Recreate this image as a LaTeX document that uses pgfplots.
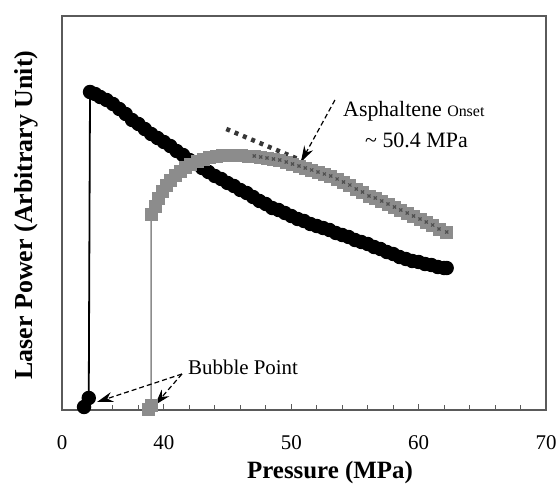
\documentclass[border=0pt]{standalone}
\usepackage{pgfplots}
\pgfplotsset{compat=1.18}
\usepackage{pgfplotstable}
\usepackage{fontspec}
\setmainfont{Liberation Serif}
\usetikzlibrary{arrows.meta}
\definecolor{mgray}{RGB}{140,140,140}
\definecolor{mgrayd}{RGB}{80,80,80}
\definecolor{frame}{RGB}{90,90,90}
\definecolor{dotc}{RGB}{55,55,55}

\pgfplotstableread{
x y
33.73 3
34.1 12
34.2 318
34.6 316
35.0 313
35.5 310
36.0 306
36.5 301
37.0 296
37.5 290
38.0 286
38.5 281
39.0 276
39.5 272
40.0 268
40.5 264
41.0 259
41.5 255
42.0 250
42.5 246
43.0 242
43.5 238
44.0 234
44.5 231
45.0 227
45.5 224
46.0 220
46.5 217
47.0 213
47.5 209
48.0 206
48.5 202
49.0 200
49.5 197
50.0 194
50.5 191
51.0 189
51.5 186
52.0 184
52.5 182
53.0 180
53.5 177
54.0 175
54.5 173
55.0 170
55.5 168
56.0 166
56.5 163
57.0 161
57.5 158
58.0 156
58.5 153
59.0 151
59.5 149
60.0 148
60.5 146
61.0 145
61.5 143
62.0 142
62.2 142
}\blackdata

\pgfplotstableread{
x y
38.75 1
39.0 5
39.0 196
39.3 204
39.6 212
39.9 219
40.2 225
40.5 230
40.9 235
41.3 239
41.7 243
42.1 246
42.6 249
43.1 251
43.6 253
44.1 254
44.6 255
45.1 255
45.6 255
46.1 255
46.6 254
47.1 254
47.6 253
48.1 252
48.6 251
49.1 250
49.6 248
50.1 246
50.6 244
51.1 242
51.6 240
52.1 238
52.6 236
53.1 234
53.6 231
54.1 228
54.6 225
55.1 221
55.6 218
56.1 214
56.6 212
57.1 209
57.6 206
58.1 203
58.6 200
59.1 197
59.6 194
60.1 191
60.6 188
61.1 185
61.6 181
62.2 178
}\graydata

\begin{document}
\begin{tikzpicture}
\path[use as bounding box] (-62bp,-80bp) rectangle (497bp,410bp);
\begin{axis}[
  at={(0,0)}, anchor=south west,
  scale only axis, width=484bp, height=394bp,
  xmin=32, xmax=70, ymin=0, ymax=394,
  clip=false,
  axis line style={frame, line width=1.2bp},
  xtick={32,40,50,60,70}, xticklabels={0,40,50,60,70},
  minor xtick={34,36,38,42,44,46,48,52,54,56,58,62,64,66,68},
  ytick=\empty,
  xtick pos=bottom, tick align=inside,
  major tick length=6bp, minor tick length=5bp,
  tick style={frame, line width=1bp},
  xticklabel style={font=\fontsize{21}{24}\selectfont, anchor=center, yshift=-33bp},
]
\addplot[black, line width=1.8bp, mark=*, mark size=6.3bp, mark options={fill=black, draw=black}] table {\blackdata};
\addplot[mgray, line width=1.5bp, mark=square*, mark size=6bp, mark options={fill=mgray, draw=mgray, line width=0.8bp}] table {\graydata};
\addplot[only marks, restrict x to domain=47:63, mark=x, mark size=2.2bp, mark options={draw=mgrayd, line width=1.2bp}] table {\graydata};
\addplot[dotc, line width=4.5bp, dash pattern=on 4bp off 5bp] coordinates {(44.9,281) (50.9,249)};

\draw[black, line width=1.2bp, dash pattern=on 5bp off 3bp, -{Stealth[length=16bp,width=10bp]}] (axis cs:53.43,310) -- (axis cs:50.76,248);
\draw[black, line width=1.2bp, dash pattern=on 5bp off 3bp, -{Stealth[length=16bp,width=10bp]}] (axis cs:41.42,36) -- (axis cs:34.75,8);
\draw[black, line width=1.2bp, dash pattern=on 5bp off 3bp, -{Stealth[length=16bp,width=10bp]}] (axis cs:41.42,36) -- (axis cs:39.3,5);

\node[anchor=base west, inner sep=0, font=\fontsize{22}{24}\selectfont] at (axis cs:54.06,293) {Asphaltene {\fontsize{16}{18}\selectfont Onset}};
\node[anchor=base west, inner sep=0, font=\fontsize{22}{24}\selectfont] at (axis cs:55.79,262) {\textasciitilde\ 50.4 MPa};
\node[anchor=base west, inner sep=0, font=\fontsize{21}{24}\selectfont] at (axis cs:41.89,35) {Bubble Point};
\end{axis}
\node[rotate=90, font=\bfseries\fontsize{26}{28}\selectfont] at (-36bp,195bp) {Laser Power (Arbitrary Unit)};
\node[font=\bfseries\fontsize{25}{28}\selectfont] at (268bp,-63bp) {Pressure (MPa)};
\end{tikzpicture}
\end{document}
